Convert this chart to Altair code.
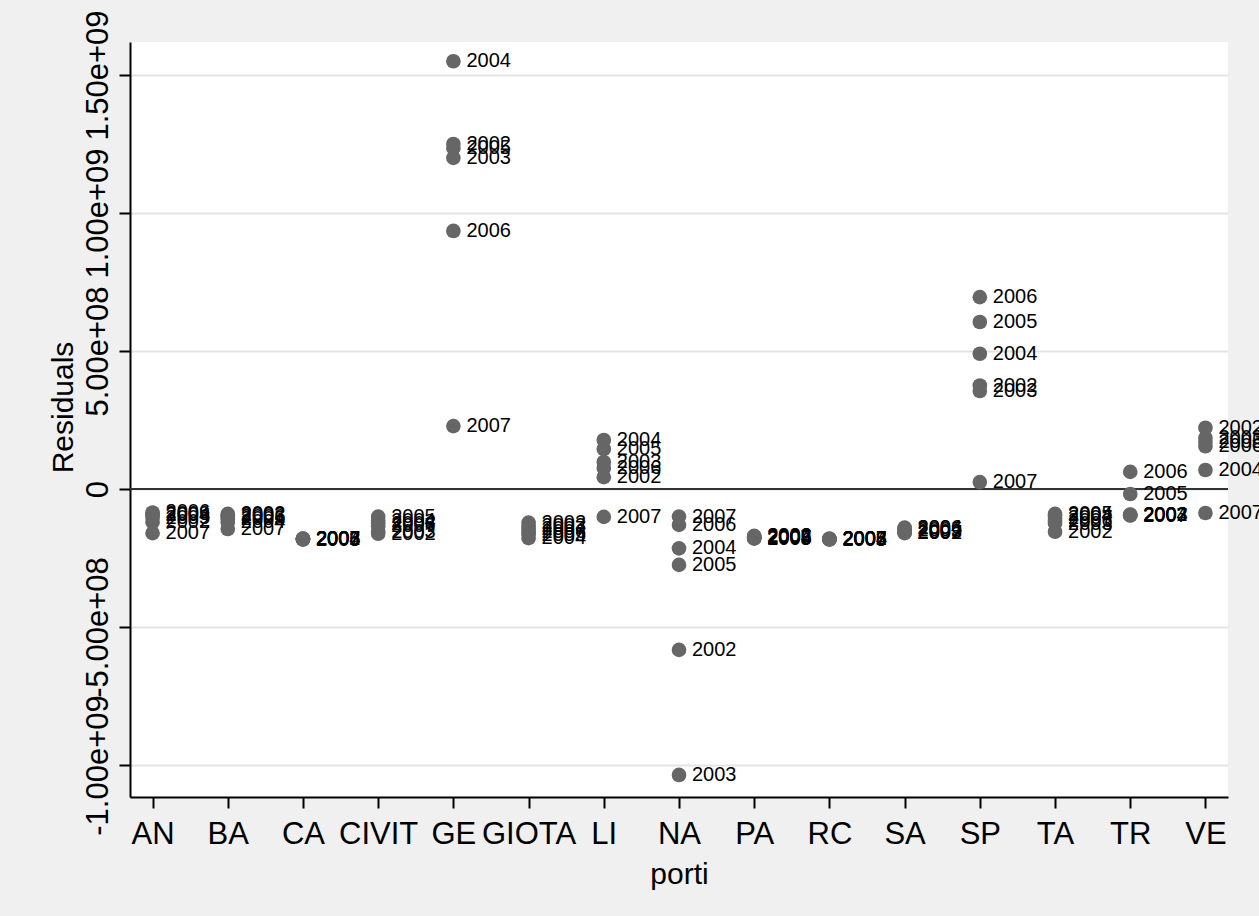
import altair as alt
import pandas as pd

# Ports on the x axis, in display order
ports = ["AN", "BA", "CA", "CIVIT", "GE", "GIOTA", "LI", "NA",
         "PA", "RC", "SA", "SP", "TA", "TR", "VE"]
years = [2002, 2003, 2004, 2005, 2006, 2007]

# Residuals per port, one value per year 2002..2007
res_AN = [-1.20e8, -0.90e8, -0.95e8, -1.05e8, -0.85e8, -1.60e8]
res_BA = [-0.90e8, -0.95e8, -1.20e8, -1.10e8, -1.00e8, -1.45e8]
res_CA = [-1.80e8, -1.82e8, -1.81e8, -1.83e8, -1.82e8, -1.80e8]
res_CIVIT = [-1.62e8, -1.55e8, -1.15e8, -1.00e8, -1.25e8, -1.35e8]
res_GE = [1.250e9, 1.200e9, 1.550e9, 1.235e9, 0.935e9, 0.228e9]
res_GIOTA = [-1.22e8, -1.35e8, -1.78e8, -1.65e8, -1.55e8, -1.45e8]
res_LI = [0.43e8, 0.98e8, 1.775e8, 1.45e8, 0.76e8, -1.01e8]
res_NA = [-5.83e8, -1.036e9, -2.15e8, -2.75e8, -1.30e8, -1.00e8]
res_PA = [-1.70e8, -1.78e8, -1.74e8, -1.80e8, -1.72e8, -1.76e8]
res_RC = [-1.80e8, -1.82e8, -1.81e8, -1.83e8, -1.81e8, -1.82e8]
res_SA = [-1.58e8, -1.55e8, -1.42e8, -1.50e8, -1.40e8, -1.60e8]
res_SP = [3.75e8, 3.55e8, 4.90e8, 6.05e8, 6.95e8, 0.25e8]
res_TA = [-1.55e8, -1.25e8, -0.95e8, -0.90e8, -1.15e8, -1.05e8]
res_TR = [-0.94e8, -0.95e8, -0.93e8, -0.18e8, 0.62e8, -0.96e8]
res_VE = [2.22e8, 1.85e8, 0.69e8, 1.70e8, 1.55e8, -0.87e8]

residuals = [res_AN, res_BA, res_CA, res_CIVIT, res_GE, res_GIOTA, res_LI,
             res_NA, res_PA, res_RC, res_SA, res_SP, res_TA, res_TR, res_VE]

# Y axis ticks and their labels (Stata-style exponent format)
y_ticks = [-1.0e9, -5.0e8, 0, 5.0e8, 1.0e9, 1.5e9]
y_tick_labels = ["-1.00e+09", "-5.00e+08", "0", "5.00e+08", "1.00e+09", "1.50e+09"]

rows = []
for port, vals in zip(ports, residuals):
    for yr, v in zip(years, vals):
        rows.append({"port": port, "year": str(yr), "residual": v})
df = pd.DataFrame(rows)

label_expr = "''"
for v, lab in zip(y_ticks, y_tick_labels):
    label_expr = f"datum.value == {v} ? '{lab}' : ({label_expr})"

FONT = "Liberation Sans"

x_enc = alt.X(
    "port:N",
    sort=ports,
    scale=alt.Scale(type="point", padding=0.3),
    axis=alt.Axis(
        title="porti",
        labelAngle=0,
        labelFontSize=31,
        labelFont=FONT,
        labelColor="black",
        labelBaseline="alphabetic",
        labelPadding=35,
        tickSize=11,
        tickWidth=2,
        tickColor="black",
        domainColor="black",
        domainWidth=2,
        grid=False,
        titleFontSize=30,
        titleFont=FONT,
        titleFontWeight="normal",
        titleColor="black",
        titleBaseline="alphabetic",
        titleX=549,
        titleY=86,
    ),
)

y_scale = alt.Scale(domain=[-1.1159e9, 1.6196e9], nice=False, zero=False)

y_enc = alt.Y(
    "residual:Q",
    scale=y_scale,
    axis=alt.Axis(
        title="Residuals",
        values=y_ticks,
        labelExpr=label_expr,
        labelAngle=270,
        labelAlign="center",
        labelBaseline="alphabetic",
        labelPadding=12,
        labelFontSize=31,
        labelFont=FONT,
        labelColor="black",
        labelOverlap=False,
        labelFlush=False,
        tickSize=11,
        tickWidth=2,
        tickColor="black",
        domainColor="black",
        domainWidth=2,
        grid=True,
        gridColor="#e4e4e4",
        gridWidth=2,
        titleFontSize=30,
        titleFont=FONT,
        titleFontWeight="normal",
        titleColor="black",
        titleAngle=270,
        titleAlign="center",
        titleBaseline="alphabetic",
        titleX=-58,
        titleY=365,
    ),
)

base = alt.Chart(df)

points = base.mark_circle(size=215, color="#666666", opacity=1).encode(
    x=x_enc, y=y_enc
)

labels = base.mark_text(
    align="left", baseline="middle", dx=13, fontSize=20, font=FONT, color="black"
).encode(x=alt.X("port:N", sort=ports), y="residual:Q", text="year:N")

zero_line = alt.Chart(pd.DataFrame({"residual": [0]})).mark_rule(
    color="#333333", strokeWidth=2
).encode(y="residual:Q")

chart = (
    alt.layer(zero_line, points, labels)
    .properties(
        width=1098,
        height=755,
        padding={"left": 130, "top": 42, "right": 31, "bottom": 119},
        autosize=alt.AutoSizeParams(type="none"),
        background="#f0f0f0",
    )
    .configure_view(fill="white", strokeWidth=0)
)

chart.save("out.html", embed_options={"renderer": "svg", "actions": False})
